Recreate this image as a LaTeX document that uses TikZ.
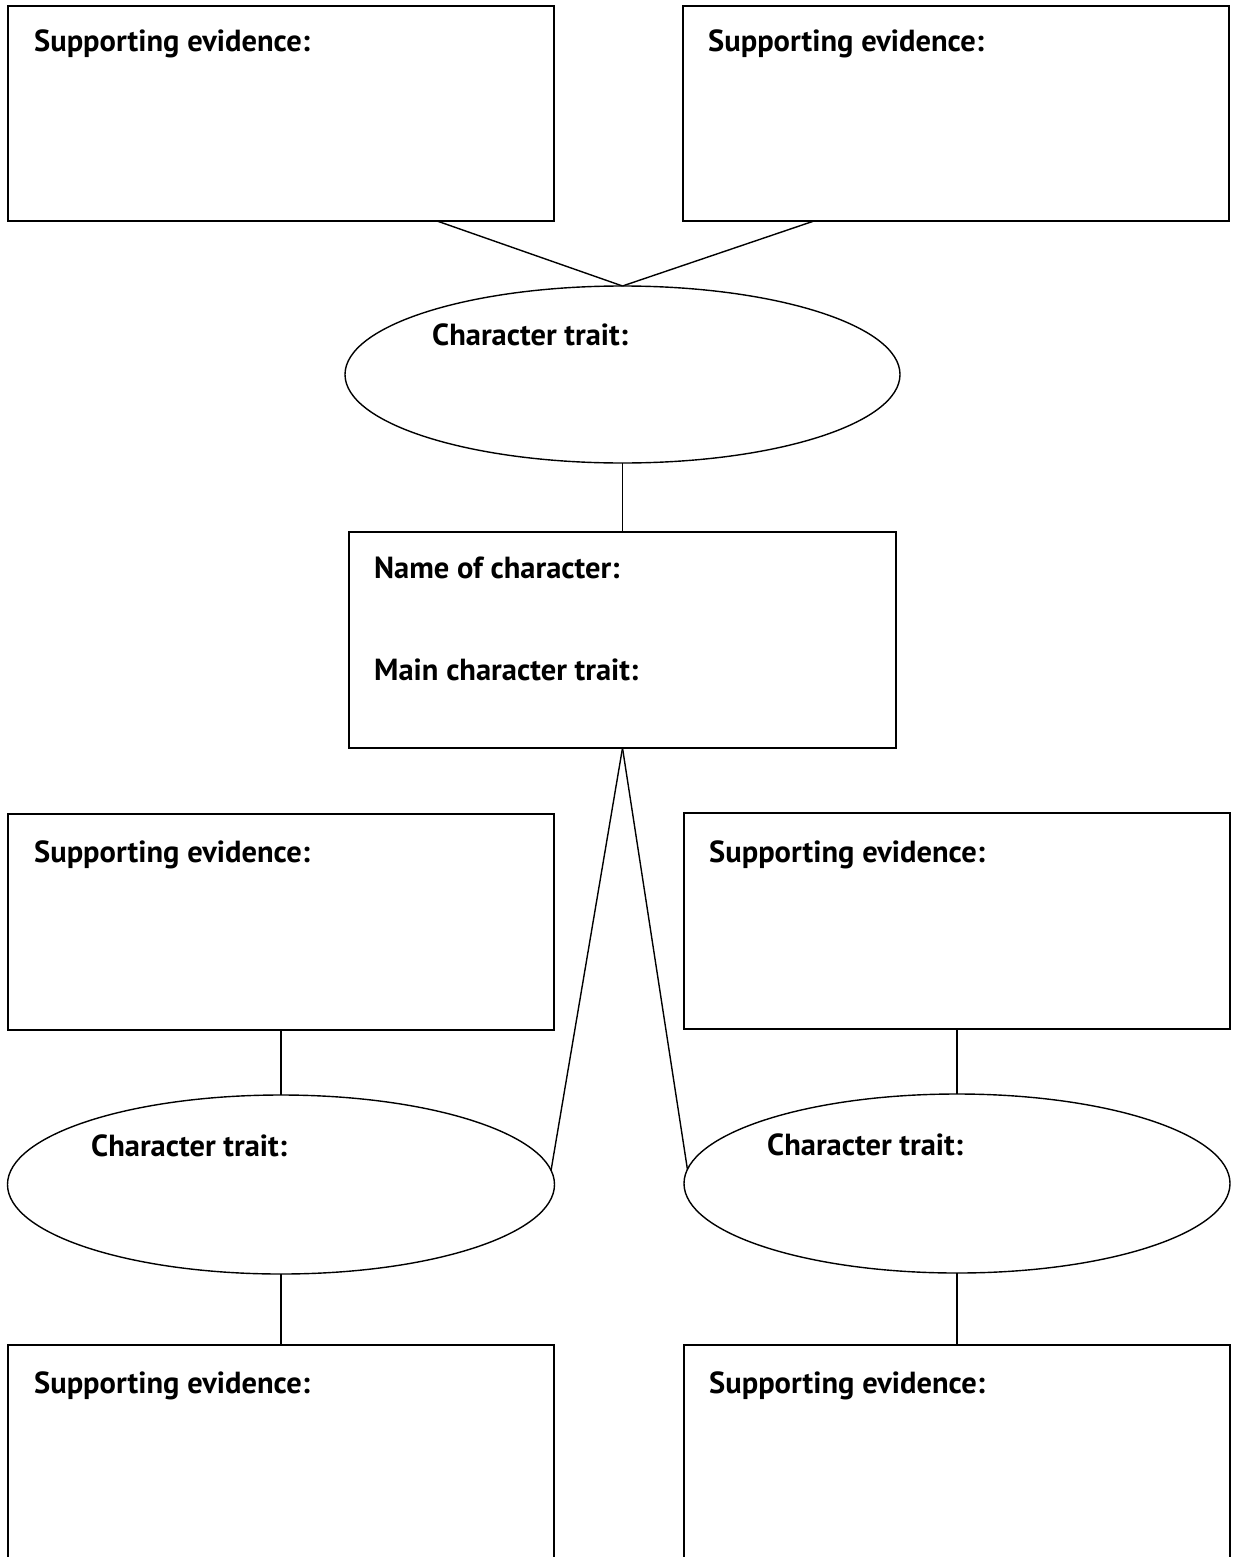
\documentclass[tikz,border=0pt]{standalone}
\usepackage{fontspec}
\setmainfont{PT Sans}
\usetikzlibrary{shapes.geometric,calc}
\tikzset{
  box/.style={draw=black, line width=1.4pt, rectangle, inner sep=0pt, outer sep=0pt, minimum width=546pt},
  oval/.style={draw=black, line width=1.4pt, ellipse, inner sep=0pt, outer sep=0pt},
  lbl/.style={anchor=base west, inner sep=0pt, font=\fontsize{30.5}{36}\selectfont\bfseries},
  conn/.style={draw=black, line width=1.4pt}
}
\begin{document}
\begin{tikzpicture}[x=1pt,y=-1pt]
\useasboundingbox (0,0) rectangle (1233,1557);
\fill[white] (0,0) rectangle (1233,1557);
% boxes
\node[box, minimum height=215pt] (tl) at (281,113.5) {};
\node[box, minimum height=215pt] (tr) at (956,113.5) {};
\node[box, minimum width=547pt, minimum height=216pt] (cb) at (622.5,640) {};
\node[box, minimum height=216pt] (ml) at (281,922) {};
\node[box, minimum height=216pt] (mr) at (957,921) {};
\node[box, minimum height=225pt] (bl) at (281,1457.5) {};
\node[box, minimum height=225pt] (br) at (957,1457.5) {};
% ellipses
\node[oval, minimum width=555pt, minimum height=177pt] (e1) at (622.5,374.5) {};
\node[oval, minimum width=547pt, minimum height=179pt] (le) at (281,1184.5) {};
\node[oval, minimum width=546pt, minimum height=179pt] (re) at (957,1183.5) {};
% labels
\node[lbl] (t1) at (34,52) {Supporting evidence:};
\node[lbl] (t2) at (708,52) {Supporting evidence:};
\node[lbl] (t3) at (432,345) {Character trait:};
\node[lbl] (t4) at (374,578) {Name of character:};
\node[lbl] (t5) at (374,680) {Main character trait:};
\node[lbl] (t6) at (34,862) {Supporting evidence:};
\node[lbl] (t7) at (709,862) {Supporting evidence:};
\node[lbl] (t8) at (91,1156) {Character trait:};
\node[lbl] (t9) at (767,1155) {Character trait:};
\node[lbl] (t10) at (34,1393) {Supporting evidence:};
\node[lbl] (t11) at (709,1393) {Supporting evidence:};
% connectors
\draw[conn] ([xshift=156pt]tl.south) -- (e1.north);
\draw[conn] ([xshift=-142pt]tr.south) -- (e1.north);
\draw[conn] (e1.south) -- (cb.north);
\draw[conn] (cb.south) -- (le.3);
\draw[conn] (cb.south) -- (re.177);
\draw[conn] (ml.south) -- (le.north);
\draw[conn] (le.south) -- (bl.north);
\draw[conn] (mr.south) -- (re.north);
\draw[conn] (re.south) -- (br.north);
\end{tikzpicture}
\end{document}
